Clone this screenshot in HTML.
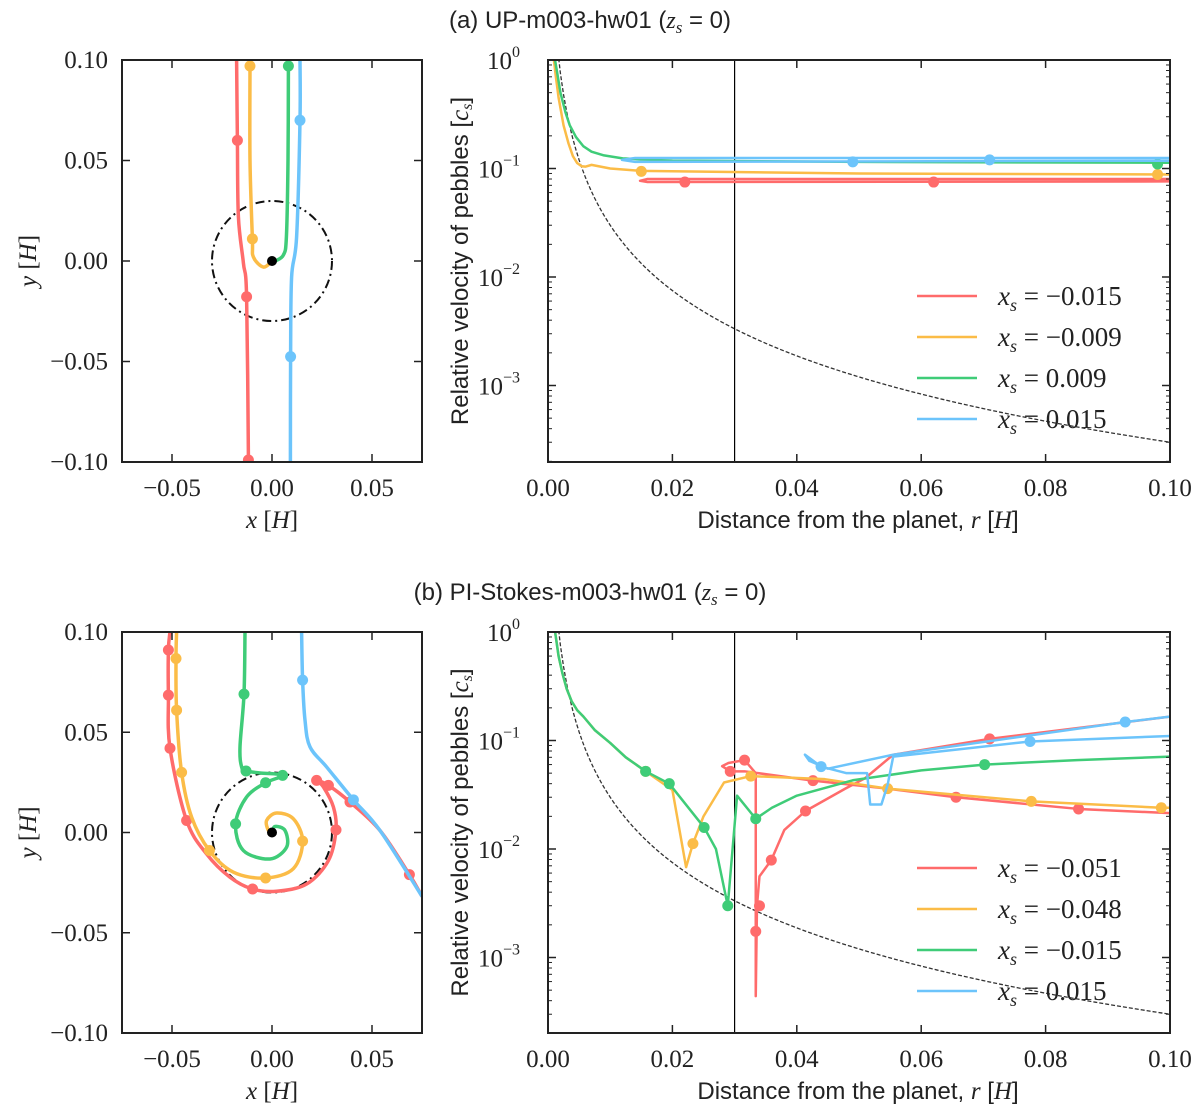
<!DOCTYPE html>
<html><head><meta charset="utf-8"><style>
body{margin:0;background:#fff}
svg{display:block}
.tk{font-family:"Liberation Serif",serif;font-size:25px;fill:#222}
.lg{font-family:"Liberation Serif",serif;font-size:27px;fill:#222}
.lb{font-family:"Liberation Sans",sans-serif;font-size:24px;fill:#222}
.it{font-family:"Liberation Serif",serif;font-style:italic}
</style></head><body>
<svg id="fig" width="1200" height="1112" viewBox="0 0 1200 1112" xmlns="http://www.w3.org/2000/svg"></svg>
<script>
// ---------- data ----------
const colors=["#ff6b6b","#fbbc47","#3fcc78","#6cc4fb"];
// panel a, trajectories (x,y) in H
const aTrajX=[
 [-0.0177,-0.0173,-0.0168,-0.0143,-0.0127,-0.0118,-0.0118],
 [-0.011,-0.011,-0.0098,-0.0093,-0.0043,0],
 [0.0082,0.0080,0.0072,0.0057,0.0015,0],
 [0.014,0.014,0.0123,0.0098,0.0093,0.0092]];
const aTrajY=[
 [0.1,0.06,0.022,-0.001,-0.0178,-0.097,-0.1],
 [0.097,0.05,0.011,0.002,-0.003,0],
 [0.097,0.05,0.012,0.003,0.0,0],
 [0.1,0.07,0.012,-0.008,-0.0476,-0.1]];
const aDotX=[[-0.0173,-0.0127,-0.0118],[-0.011,-0.0098],[0.0082],[0.014,0.0093]];
const aDotY=[[0.060,-0.0178,-0.099],[0.097,0.011],[0.097],[0.070,-0.0476]];
// panel a, velocity vs distance
const aVelR=[
 [0.1,0.016,0.0148,0.016,0.1],
 [0.0008,0.0012,0.0017,0.0025,0.0033,0.004,0.0047,0.0054,0.006,0.007,0.01,0.015,0.05,0.1],
 [0.0009,0.0015,0.002,0.0028,0.0035,0.0045,0.0057,0.007,0.009,0.012,0.02,0.05,0.1],
 [0.1,0.014,0.0119,0.014,0.1]];
const aVelV=[
 [0.080,0.080,0.077,0.075,0.076],
 [1.2,0.75,0.45,0.25,0.17,0.13,0.112,0.105,0.104,0.108,0.1,0.095,0.09,0.088],
 [1.2,0.75,0.5,0.33,0.25,0.195,0.16,0.143,0.132,0.124,0.118,0.115,0.113],
 [0.125,0.125,0.12,0.115,0.118]];
const aVelDotR=[[0.022,0.062],[0.015,0.098],[0.098],[0.049,0.071]];
const aVelDotV=[[0.075,0.075],[0.094,0.088],[0.11],[0.115,0.12]];
// panel b, trajectories
const bTrajX=[
 [-0.051,-0.0518,-0.0518,-0.051,-0.0427,-0.0327,-0.021,-0.0097,0.0023,0.0173,0.0282,0.032,0.0307,0.0257,0.0223,0.0282,0.039,0.054,0.0687,0.0748],
 [-0.0477,-0.048,-0.0477,-0.0452,-0.0402,-0.0313,-0.0193,-0.0032,0.0107,0.0153,0.0107,0.0023,-0.0027,-0.0018,0],
 [-0.0135,-0.014,-0.016,-0.0152,-0.013,-0.006,0.0053,-0.0032,-0.0127,-0.0182,-0.0143,-0.001,0.0073,0.0065,0.0015,0],
 [0.0148,0.0153,0.0165,0.019,0.0273,0.0407,0.054,0.0748]];
const bTrajY=[
 [0.10,0.091,0.0685,0.042,0.006,-0.0107,-0.0223,-0.0282,-0.0293,-0.0257,-0.014,0.0013,0.0127,0.0227,0.026,0.0235,0.0152,0.001,-0.021,-0.0315],
 [0.10,0.0868,0.061,0.030,0.0077,-0.009,-0.0198,-0.0227,-0.018,-0.0043,0.0068,0.0097,0.006,0.001,0],
 [0.10,0.069,0.0427,0.0327,0.0307,0.0297,0.0285,0.0248,0.0177,0.0043,-0.009,-0.0132,-0.0073,0.001,0.003,0],
 [0.10,0.076,0.056,0.0427,0.0327,0.0163,0.001,-0.0315]];
const bDotX=[[-0.0518,-0.0518,-0.051,-0.0427,-0.0097,0.032,0.0223,0.0282,0.039,0.0687],[-0.048,-0.0477,-0.0452,-0.0313,-0.0032,0.0153],[-0.014,-0.013,0.0053,-0.0032,-0.0182],[0.0153,0.0407]];
const bDotY=[[0.091,0.0685,0.042,0.006,-0.0282,0.0013,0.026,0.0235,0.0152,-0.021],[0.0868,0.061,0.030,-0.009,-0.0227,-0.0043],[0.069,0.0307,0.0285,0.0248,0.0043],[0.076,0.0163]];
// panel b, velocity vs distance
const bVelR=[
 [0.1,0.0853,0.0656,0.0546,0.0426,0.0316,0.0293,0.028,0.029,0.0316,0.0334,0.0334,0.0336,0.034,0.0359,0.038,0.0414,0.0478,0.051,0.0555,0.071,0.1],
 [0.0008,0.0012,0.0017,0.0023,0.003,0.0038,0.0047,0.0057,0.0075,0.01,0.0125,0.0157,0.02,0.0222,0.0233,0.025,0.0283,0.0326,0.0445,0.0546,0.0777,0.0986,0.1],
 [0.0008,0.0012,0.0017,0.0023,0.003,0.0038,0.0047,0.0057,0.0075,0.01,0.0125,0.0157,0.0195,0.0251,0.027,0.0289,0.0304,0.0334,0.036,0.04,0.049,0.06,0.0702,0.085,0.1],
 [0.1,0.0775,0.0555,0.0546,0.0536,0.0518,0.0513,0.048,0.0439,0.0413,0.042,0.045,0.0555,0.0928,0.1]];
const bVelV=[
 [0.0214,0.0234,0.030,0.036,0.0427,0.052,0.052,0.058,0.062,0.066,0.05,0.00044,0.003,0.0056,0.0079,0.015,0.0224,0.036,0.045,0.074,0.1035,0.166],
 [1.5,0.95,0.6,0.42,0.3,0.23,0.19,0.166,0.125,0.095,0.07,0.052,0.035,0.0068,0.0112,0.02,0.041,0.047,0.044,0.036,0.0275,0.024,0.024],
 [1.5,0.95,0.6,0.42,0.3,0.23,0.19,0.166,0.125,0.095,0.07,0.052,0.040,0.0158,0.010,0.003,0.031,0.019,0.024,0.031,0.043,0.053,0.060,0.066,0.071],
 [0.11,0.098,0.071,0.039,0.0257,0.0257,0.050,0.050,0.0575,0.074,0.065,0.055,0.074,0.148,0.166]];
const bVelDotR=[[0.0853,0.0656,0.0426,0.0293,0.0316,0.0334,0.034,0.0359,0.0414,0.071],[0.0157,0.0233,0.0326,0.0546,0.0777,0.0986],[0.0157,0.0195,0.0251,0.0289,0.0334,0.0702],[0.0775,0.0439,0.0928]];
const bVelDotV=[[0.0234,0.030,0.0427,0.052,0.066,0.00174,0.003,0.0079,0.0224,0.1035],[0.052,0.0112,0.047,0.036,0.0275,0.024],[0.052,0.040,0.0158,0.003,0.019,0.060],[0.098,0.0575,0.148]];
const aLegend=["−0.015","−0.009","0.009","0.015"];
const bLegend=["−0.051","−0.048","−0.015","0.015"];
const xTicksL=[-0.05,0,0.05];
const xTickLabelsL=["−0.05","0.00","0.05"];
const yTicksL=[0.10,0.05,0,-0.05,-0.10];
const yTickLabelsL=["0.10","0.05","0.00","−0.05","−0.10"];
const xTicksR=[0,0.02,0.04,0.06,0.08,0.10];
const xTickLabelsR=["0.00","0.02","0.04","0.06","0.08","0.10"];
const yDecades=[0,-1,-2,-3];
const rHill=0.03;
const dashK=3e-6; // v = K / r^2 reference curve

// ---------- drawing ----------
const NS="http://www.w3.org/2000/svg";
const svg=document.getElementById('fig');
function el(tag,attrs,parent){const e=document.createElementNS(NS,tag);for(const k in attrs)e.setAttribute(k,attrs[k]);(parent||svg).appendChild(e);return e;}
function txt(x,y,s,cls,anchor,parent){const t=el('text',{x:x,y:y,class:cls,'text-anchor':anchor||'middle'},parent);t.textContent=s;return t;}
function smooth(pts){ // catmull-rom
  let d='M'+pts[0][0]+','+pts[0][1];
  for(let i=0;i<pts.length-1;i++){
    const p0=pts[Math.max(0,i-1)],p1=pts[i],p2=pts[i+1],p3=pts[Math.min(pts.length-1,i+2)];
    const c1=[p1[0]+(p2[0]-p0[0])/6,p1[1]+(p2[1]-p0[1])/6];
    const c2=[p2[0]-(p3[0]-p1[0])/6,p2[1]-(p3[1]-p1[1])/6];
    d+=' C'+c1[0]+','+c1[1]+' '+c2[0]+','+c2[1]+' '+p2[0]+','+p2[1];
  }
  return d;
}

function panel(top,bot,tag,title,trX,trY,dX,dY,vR,vV,vdR,vdV,legend){
  const L={x0:122,x1:422,y0:top,y1:bot};
  const R={x0:548,x1:1170,y0:top,y1:bot};
  const sxL=v=>L.x0+(v+0.075)/0.15*(L.x1-L.x0);
  const syL=v=>L.y0+(0.10-v)/0.20*(L.y1-L.y0);
  const dec=108.5;
  const sxR=v=>R.x0+v/0.10*(R.x1-R.x0);
  const syR=v=>R.y0-Math.log10(v)*dec;
  const g=el('g',{});
  
  
  const tt=el('text',{x:590,y:top-32,class:'lb','text-anchor':'middle'},g);
  
  
  tt.innerHTML=title+' (<tspan class="it">z</tspan><tspan class="it" font-size="17" dy="5">s</tspan><tspan dy="-5"> = 0)</tspan>';
  const cid='clipL'+tag, rid='clipR'+tag;
  const cp=el('clipPath',{id:cid},g);el('rect',{x:L.x0,y:L.y0,width:L.x1-L.x0,height:L.y1-L.y0},cp);
  const rp=el('clipPath',{id:rid},g);el('rect',{x:R.x0,y:R.y0,width:R.x1-R.x0,height:R.y1-R.y0},rp);
  const lg=el('g',{'clip-path':'url(#'+cid+')'},g);
  const circ=el('circle',{cx:sxL(0),cy:syL(0),r:(sxL(rHill)-sxL(0)),fill:'none',stroke:'#111','stroke-width':2,'stroke-dasharray':'9,4,2,4'},lg);
  
  
  for(let i=0;i<4;i++){
    const pts=trX[i].map((x,j)=>[sxL(x),syL(trY[i][j])]);
    const p=el('path',{d:smooth(pts),fill:'none',stroke:colors[i],'stroke-width':3.5,'stroke-linejoin':'round','stroke-linecap':'round'},lg);
    
    
    dX[i].forEach((x,j)=>{const c=el('circle',{cx:sxL(x),cy:syL(dY[i][j]),r:5.5,fill:colors[i]},lg);
      
      });
  }
  const pl=el('circle',{cx:sxL(0),cy:syL(0),r:5,fill:'#000'},lg);
  
  
  const fr=el('rect',{x:L.x0,y:L.y0,width:L.x1-L.x0,height:L.y1-L.y0,fill:'none',stroke:'#222','stroke-width':2},g);
  
  
  xTicksL.forEach((v,i)=>{const x=sxL(v);
    el('line',{x1:x,x2:x,y1:L.y1,y2:L.y1-8,stroke:'#222','stroke-width':1.5},g);
    el('line',{x1:x,x2:x,y1:L.y0,y2:L.y0+8,stroke:'#222','stroke-width':1.5},g);
    const t=txt(x,L.y1+34,xTickLabelsL[i],'tk','middle',g);
    
    });
  yTicksL.forEach((v,i)=>{const y=syL(v);
    el('line',{x1:L.x0,x2:L.x0+8,y1:y,y2:y,stroke:'#222','stroke-width':1.5},g);
    el('line',{x1:L.x1,x2:L.x1-8,y1:y,y2:y,stroke:'#222','stroke-width':1.5},g);
    const t=txt(108,y+8,yTickLabelsL[i],'tk','end',g);
    
    });
  const xl=el('text',{x:272,y:L.y1+66,class:'tk','text-anchor':'middle'},g);
  xl.innerHTML='<tspan font-style="italic">x</tspan> [<tspan font-style="italic">H</tspan>]';
  
  
  const yl=el('text',{x:0,y:0,class:'tk','text-anchor':'middle',transform:'translate(36,'+syL(0)+') rotate(-90)'},g);
  yl.innerHTML='<tspan font-style="italic">y</tspan> [<tspan font-style="italic">H</tspan>]';
  
  
  const rg=el('g',{'clip-path':'url(#'+rid+')'},g);
  let dpts=[];for(let r=0.0015;r<=0.1001;r+=0.0005)dpts.push(sxR(r)+','+syR(dashK/(r*r)));
  const dl=el('polyline',{points:dpts.join(' '),fill:'none',stroke:'#333','stroke-width':1.3,'stroke-dasharray':'4,2'},rg);
  
  
  const hl=el('line',{x1:sxR(rHill),x2:sxR(rHill),y1:R.y0,y2:R.y1,stroke:'#000','stroke-width':1.2},rg);
  
  
  for(let i=0;i<4;i++){
    const p=el('polyline',{points:vR[i].map((r,j)=>sxR(r)+','+syR(vV[i][j])).join(' '),fill:'none',stroke:colors[i],'stroke-width':2.5,'stroke-linejoin':'round'},rg);
    
    
    vdR[i].forEach((r,j)=>{const c=el('circle',{cx:sxR(r),cy:syR(vdV[i][j]),r:5.5,fill:colors[i]},rg);
      
      });
  }
  const fr2=el('rect',{x:R.x0,y:R.y0,width:R.x1-R.x0,height:R.y1-R.y0,fill:'none',stroke:'#222','stroke-width':2},g);
  
  
  xTicksR.forEach((v,i)=>{const x=sxR(v);
    el('line',{x1:x,x2:x,y1:R.y1,y2:R.y1-8,stroke:'#222','stroke-width':1.5},g);
    el('line',{x1:x,x2:x,y1:R.y0,y2:R.y0+8,stroke:'#222','stroke-width':1.5},g);
    const t=txt(x,R.y1+34,xTickLabelsR[i],'tk','middle',g);
    
    });
  yDecades.forEach(d=>{const y=R.y0-d*dec;
    el('line',{x1:R.x0,x2:R.x0+8,y1:y,y2:y,stroke:'#222','stroke-width':1.5},g);
    el('line',{x1:R.x1,x2:R.x1-8,y1:y,y2:y,stroke:'#222','stroke-width':1.5},g);
    const t=el('text',{x:520,y:y+9,class:'tk','text-anchor':'end'},g);
    t.innerHTML='10<tspan font-size="16" dy="-12">'+(d===0?'0':'−'+(-d))+'</tspan>';
    
    
    for(let m=2;m<=9;m++){const ym=y-Math.log10(m)*dec; if(ym>R.y1||ym<R.y0)continue;
      el('line',{x1:R.x0,x2:R.x0+4,y1:ym,y2:ym,stroke:'#222','stroke-width':1},g);
      el('line',{x1:R.x1,x2:R.x1-4,y1:ym,y2:ym,stroke:'#222','stroke-width':1},g);}
    const y2=y+dec; for(let m=2;m<=9;m++){const ym=y2-Math.log10(m)*dec; if(d!==-3||ym>R.y1)continue;
      el('line',{x1:R.x0,x2:R.x0+4,y1:ym,y2:ym,stroke:'#222','stroke-width':1},g);
      el('line',{x1:R.x1,x2:R.x1-4,y1:ym,y2:ym,stroke:'#222','stroke-width':1},g);}
  });
  const xr=el('text',{x:858,y:R.y1+66,class:'lb','text-anchor':'middle'},g);
  xr.innerHTML='Distance from the planet, <tspan class="it" font-size="25">r</tspan> [<tspan class="it" font-size="25">H</tspan>]';
  
  
  const yr=el('text',{x:0,y:0,class:'lb','text-anchor':'middle',transform:'translate(468,'+(R.y0+R.y1)/2+') rotate(-90)'},g);
  yr.innerHTML='Relative velocity of pebbles [<tspan class="it" font-size="25">c</tspan><tspan class="it" font-size="16" dy="4">s</tspan><tspan dy="-4">]</tspan>';
  
  
  legend.forEach((s,i)=>{const y=top+236+i*41;
    const lgE=el('g',{},g);
    
    
    el('line',{x1:917,x2:977,y1:y,y2:y,stroke:colors[i],'stroke-width':2.5},lgE);
    const t=el('text',{x:998,y:y+9,class:'lg','text-anchor':'start'},lgE);
    t.innerHTML='<tspan font-style="italic">x</tspan><tspan font-style="italic" font-size="18" dy="6">s</tspan><tspan dy="-6"> = '+s+'</tspan>';
  });
}
panel(60,462,'a','(a) UP-m003-hw01',aTrajX,aTrajY,aDotX,aDotY,aVelR,aVelV,aVelDotR,aVelDotV,aLegend);
panel(632,1033,'b','(b) PI-Stokes-m003-hw01',bTrajX,bTrajY,bDotX,bDotY,bVelR,bVelV,bVelDotR,bVelDotV,bLegend);
</script>
</body></html>
